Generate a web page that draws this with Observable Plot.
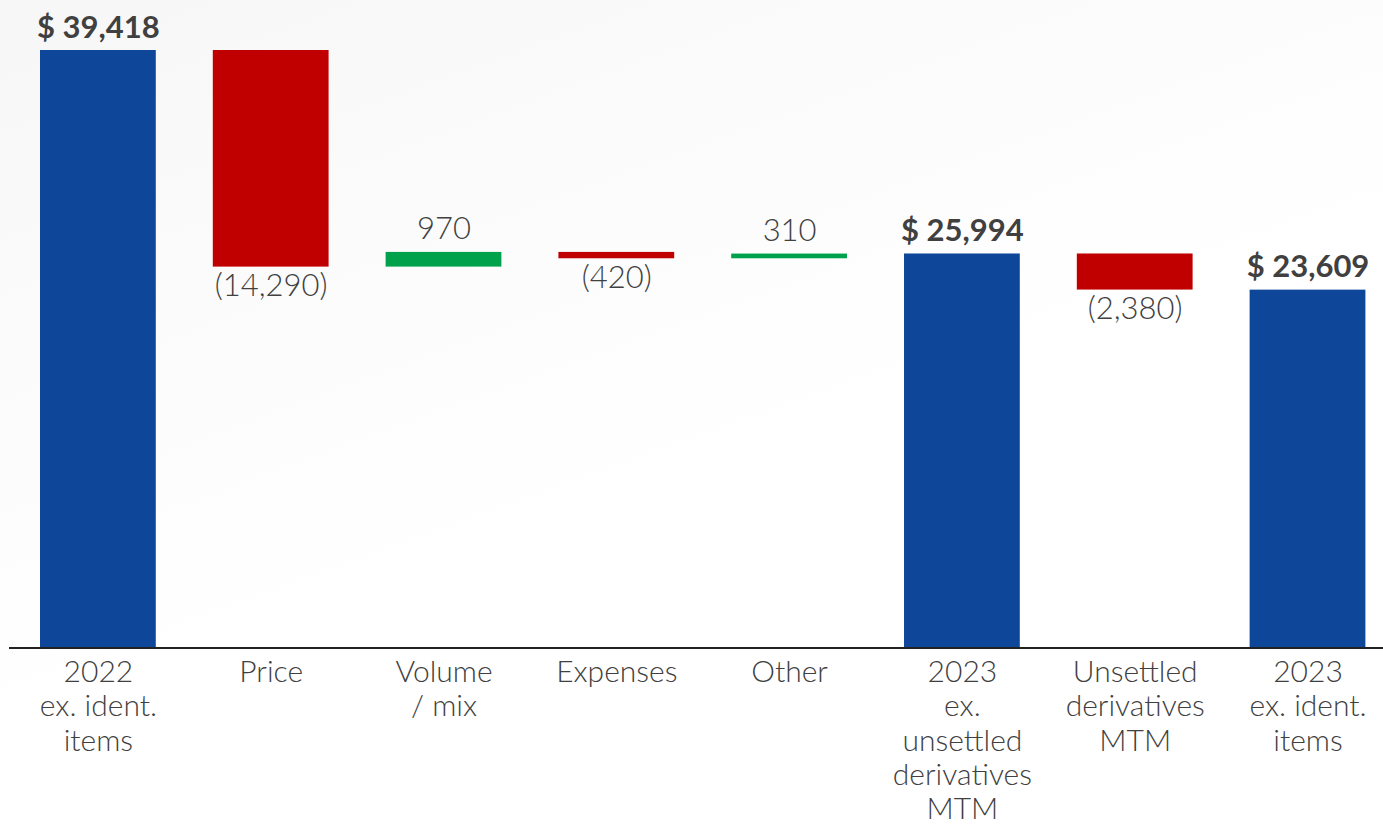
<!DOCTYPE html>
<html>
<head>
<meta charset="utf-8">
<script src="https://cdn.jsdelivr.net/npm/d3@7"></script>
<script src="https://cdn.jsdelivr.net/npm/@observablehq/plot@0.6"></script>
<style>
  html, body { margin: 0; padding: 0; background: #ffffff; }
  #chart { width: 1383px; height: 825px; overflow: hidden;
    background:
      linear-gradient(160deg, rgba(240,240,240,0.55) 0%, rgba(248,248,248,0.4) 35%, rgba(255,255,255,0) 55%);
  }
  svg { display: block; }
</style>
</head>
<body>
<div id="chart"></div>
<script>
const categories = [
  "2022\nex. ident.\nitems",
  "Price",
  "Volume\n/ mix",
  "Expenses",
  "Other",
  "2023\nex.\nunsettled\nderivatives\nMTM",
  "Unsettled\nderivatives\nMTM",
  "2023\nex. ident.\nitems"
];
const values = [39418, -14290, 970, -420, 310, 25994, -2380, 23609];
const kinds = ["total", "delta", "delta", "delta", "delta", "total", "delta", "total"];
const valueLabels = ["$ 39,418", "(14,290)", "970", "(420)", "310", "$ 25,994", "(2,380)", "$ 23,609"];

const colors = { total: "#0E4699", up: "#00A14B", down: "#C00000" };

// Build waterfall rows
let running = 0;
const rows = categories.map((c, i) => {
  const v = values[i];
  let y1, y2, kind;
  if (kinds[i] === "total") {
    y1 = 0; y2 = v; running = v; kind = "total";
  } else {
    y1 = running; y2 = running + v; running = y2; kind = v >= 0 ? "up" : "down";
  }
  return { cat: c, y1, y2, kind, label: valueLabels[i], top: Math.max(y1, y2), bottom: Math.min(y1, y2) };
});

const fontLight = "Lato, 'Open Sans', sans-serif";

const chart = Plot.plot({
  width: 1383,
  height: 825,
  marginTop: 50,
  marginBottom: 177.5,
  marginLeft: 9,
  marginRight: 0,
  style: { background: "transparent", fontFamily: fontLight, color: "#404040" },
  x: { domain: categories, range: [40, 1365.4], paddingInner: 0.33, paddingOuter: 0, round: false, label: null },
  y: { domain: [0, 39418], axis: null },
  color: { domain: ["total", "up", "down"], range: [colors.total, colors.up, colors.down] },
  marks: [
    Plot.barY(rows, { x: "cat", y1: "y1", y2: "y2", fill: "kind" }),
    Plot.ruleY([0], { stroke: "#222", strokeWidth: 2 }),
    Plot.text(rows.filter(d => d.kind === "total"), {
      x: "cat", y: "top", text: "label", lineAnchor: "bottom", dy: -13,
      fontSize: 31, fill: "#404040", fontWeight: "bold"
    }),
    Plot.text(rows.filter(d => d.kind === "up"), {
      x: "cat", y: "top", text: "label", lineAnchor: "bottom", dy: -13,
      fontSize: 31, fill: "#404040", fontWeight: 300
    }),
    Plot.text(rows.filter(d => d.kind === "down"), {
      x: "cat", y: "bottom", text: "label", lineAnchor: "top", dy: 7,
      fontSize: 31, fill: "#404040", fontWeight: 300
    }),
    Plot.axisX({ tickSize: 0, tickPadding: 10, fontSize: 30, lineHeight: 1.14, fill: "#404040", fontWeight: 300, label: null })
  ]
});
document.getElementById("chart").appendChild(chart);
</script>
</body>
</html>
